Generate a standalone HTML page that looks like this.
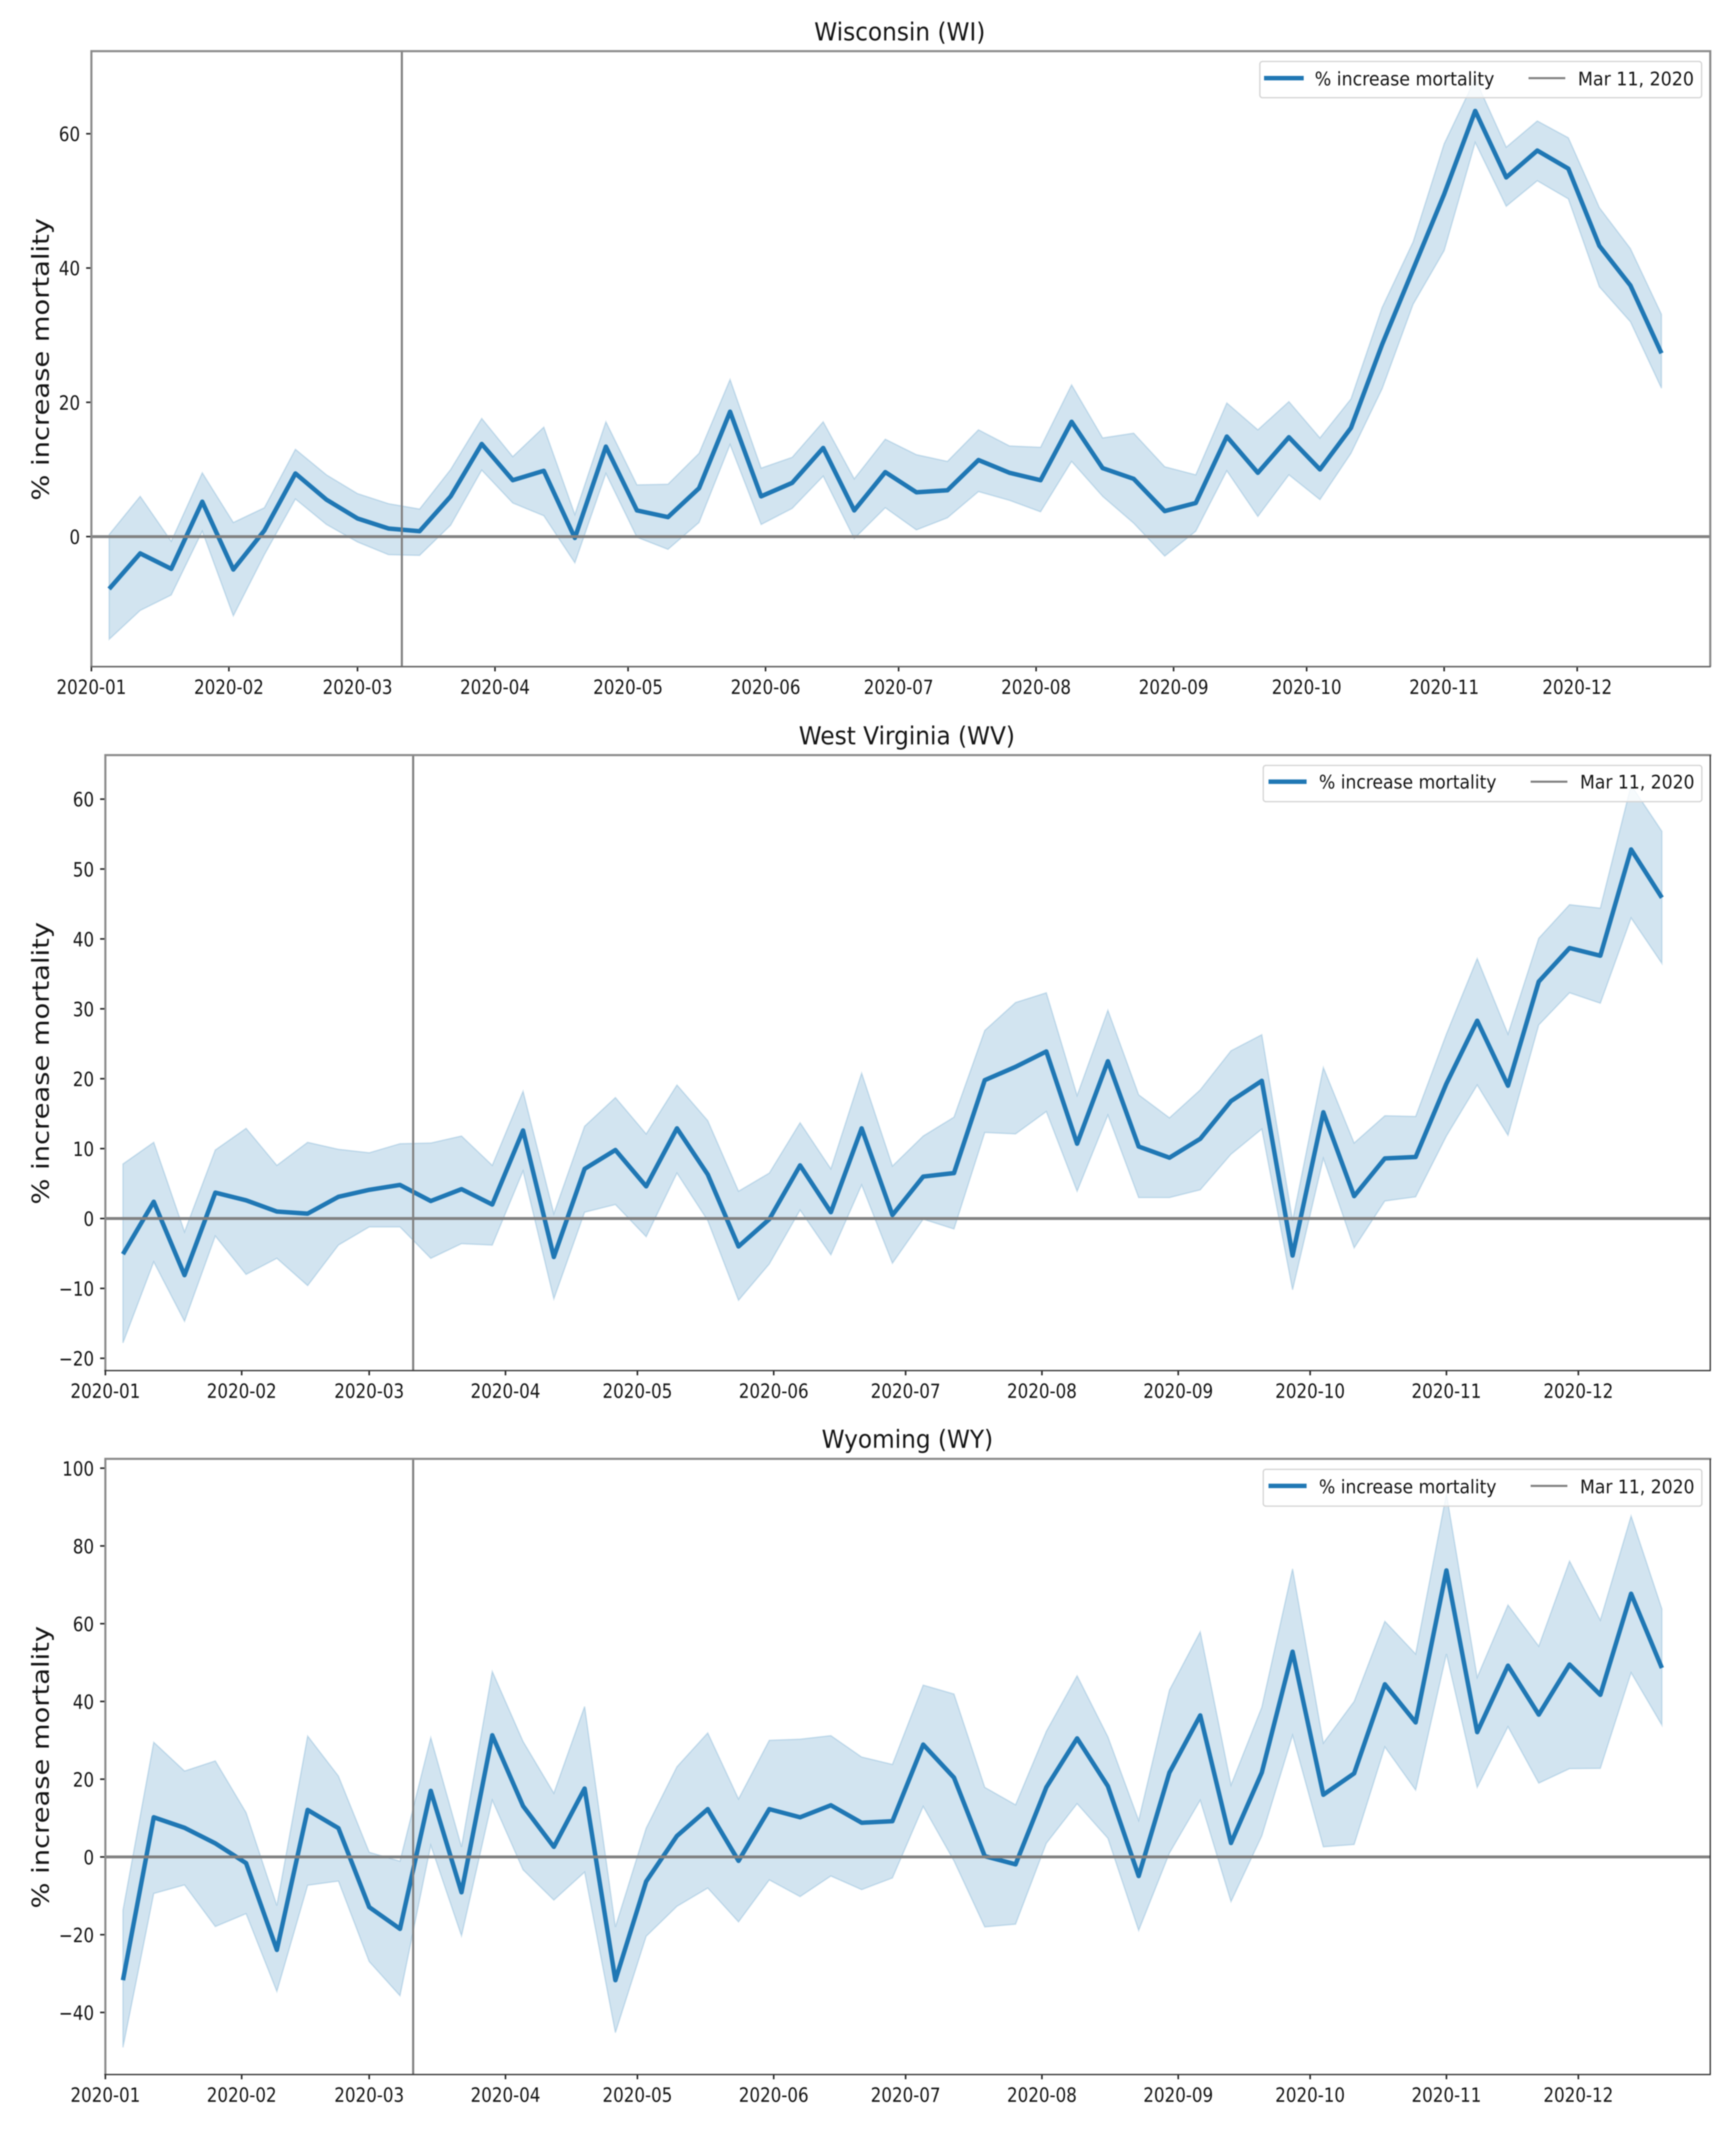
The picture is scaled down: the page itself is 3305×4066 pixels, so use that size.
<!DOCTYPE html>
<html lang="en">
<head>
<meta charset="utf-8">
<title>% increase mortality: Wisconsin, West Virginia, Wyoming</title>
<style>
html,body{margin:0;padding:0;background:#fff;}
#figure{display:block;width:3305px;height:4066px;filter:blur(1.1px);}
text{font-family:"DejaVu Sans","Liberation Sans",sans-serif;fill:#141414;}
.title{font-size:47.5px;}
.ylab{font-size:51px;}
.leg{font-size:35.5px;}
.tick{font-size:37px;}
</style>
</head>
<body>
<svg id="figure" xmlns="http://www.w3.org/2000/svg" width="3305" height="4066" viewBox="0 0 3305 4066">
  <rect x="0" y="0" width="3305" height="4066" fill="#ffffff"/>

  <g id="panel-wi">
    <text class="title" text-anchor="middle" transform="translate(1713,77) scale(0.93,1)">Wisconsin (WI)</text>
    <text class="ylab" text-anchor="middle" transform="translate(93,684) rotate(-90) scale(1.02,0.87)">% increase mortality</text>
    <g id="wi-marks"></g>
    <g>
      <rect x="2398.5" y="117" width="841" height="69" rx="5" fill="rgba(255,255,255,0.8)" stroke="#d4d4d4" stroke-width="2.5"/>
      <line x1="2406.5" y1="148.7" x2="2482" y2="148.7" stroke="#1f77b4" stroke-width="8.5"/>
      <text class="leg" x="2503" y="162.4" textLength="342" lengthAdjust="spacingAndGlyphs">% increase mortality</text>
      <line x1="2910" y1="148.7" x2="2980" y2="148.7" stroke="#808080" stroke-width="4"/>
      <text class="leg" x="3004" y="162.4" textLength="221" lengthAdjust="spacingAndGlyphs">Mar 11, 2020</text>
    </g>
  </g>

  <g id="panel-wv">
    <text class="title" text-anchor="middle" transform="translate(1726.5,1417) scale(0.93,1)">West Virginia (WV)</text>
    <text class="ylab" text-anchor="middle" transform="translate(93,2024) rotate(-90) scale(1.02,0.87)">% increase mortality</text>
    <g id="wv-marks"></g>
    <g>
      <rect x="2405" y="1457" width="835" height="69" rx="5" fill="rgba(255,255,255,0.8)" stroke="#d4d4d4" stroke-width="2.5"/>
      <line x1="2415" y1="1488" x2="2487.5" y2="1488" stroke="#1f77b4" stroke-width="8.5"/>
      <text class="leg" x="2511" y="1501" textLength="338" lengthAdjust="spacingAndGlyphs">% increase mortality</text>
      <line x1="2914" y1="1488" x2="2984" y2="1488" stroke="#808080" stroke-width="4"/>
      <text class="leg" x="3008" y="1501" textLength="218" lengthAdjust="spacingAndGlyphs">Mar 11, 2020</text>
    </g>
  </g>

  <g id="panel-wy">
    <text class="title" text-anchor="middle" transform="translate(1727.5,2756) scale(0.93,1)">Wyoming (WY)</text>
    <text class="ylab" text-anchor="middle" transform="translate(93,3364) rotate(-90) scale(1.02,0.87)">% increase mortality</text>
    <g id="wy-marks"></g>
    <g>
      <rect x="2405" y="2797" width="835" height="70" rx="5" fill="rgba(255,255,255,0.8)" stroke="#d4d4d4" stroke-width="2.5"/>
      <line x1="2415" y1="2828.5" x2="2487.5" y2="2828.5" stroke="#1f77b4" stroke-width="8.5"/>
      <text class="leg" x="2511" y="2842.5" textLength="338" lengthAdjust="spacingAndGlyphs">% increase mortality</text>
      <line x1="2914" y1="2828.5" x2="2984" y2="2828.5" stroke="#808080" stroke-width="4"/>
      <text class="leg" x="3008" y="2842.5" textLength="218" lengthAdjust="spacingAndGlyphs">Mar 11, 2020</text>
    </g>
  </g>
</svg>

<script>
const weekDates = ['2020-01-05','2020-01-12','2020-01-19','2020-01-26','2020-02-02','2020-02-09','2020-02-16','2020-02-23','2020-03-01','2020-03-08','2020-03-15','2020-03-22','2020-03-29','2020-04-05','2020-04-12','2020-04-19','2020-04-26','2020-05-03','2020-05-10','2020-05-17','2020-05-24','2020-05-31','2020-06-07','2020-06-14','2020-06-21','2020-06-28','2020-07-05','2020-07-12','2020-07-19','2020-07-26','2020-08-02','2020-08-09','2020-08-16','2020-08-23','2020-08-30','2020-09-06','2020-09-13','2020-09-20','2020-09-27','2020-10-04','2020-10-11','2020-10-18','2020-10-25','2020-11-01','2020-11-08','2020-11-15','2020-11-22','2020-11-29','2020-12-06','2020-12-13','2020-12-20'];
const monthTicks = ['2020-01','2020-02','2020-03','2020-04','2020-05','2020-06','2020-07','2020-08','2020-09','2020-10','2020-11','2020-12'];
const eventDate = '2020-03-11';

const wiMean = [-7.8,-2.5,-4.8,5.2,-4.9,0.9,9.4,5.5,2.7,1.2,0.8,6,13.8,8.4,9.8,-0.2,13.4,3.9,2.9,7.2,18.6,6,8,13.2,3.9,9.6,6.6,6.9,11.4,9.5,8.4,17.1,10.2,8.6,3.8,5,14.9,9.5,14.8,10,16.2,28.6,39.8,51,63.4,53.5,57.5,54.8,43.3,37.4,27.3];
const wiUpper = [0.3,6,-0.7,9.5,2.1,4.3,13,9.2,6.4,4.9,4.1,10,17.6,11.9,16.3,3.3,17.1,7.7,7.8,12.4,23.4,10.2,11.8,17.1,8.6,14.5,12.2,11.2,15.9,13.5,13.3,22.6,14.7,15.4,10.4,9.2,19.9,15.9,20.1,14.7,20.5,34.1,43.9,58.5,68.2,58,61.9,59.4,49,42.9,33.1];
const wiLower = [-15.3,-11,-8.7,0.8,-11.8,-2.7,5.6,1.8,-0.8,-2.7,-2.8,1.7,9.9,5,3.1,-3.9,9.4,-0.1,-1.9,2.1,13.7,1.8,4.2,9,-0.3,4.3,1,2.8,6.7,5.4,3.7,11.2,6,2,-2.9,0.8,9.8,3,9.2,5.5,12.4,22,34.6,42.6,58.7,49.2,53,50.3,37.2,32,22.1];
const wiTicks = [0,20,40,60];

const wvMean = [-5.1,2.4,-8.1,3.7,2.6,1,0.7,3.1,4.1,4.8,2.5,4.2,2,12.6,-5.5,7.1,9.8,4.6,12.9,6.3,-4,-0.1,7.6,0.9,12.9,0.5,6,6.5,19.8,21.7,23.9,10.7,22.5,10.3,8.7,11.4,16.8,19.7,-5.3,15.2,3.2,8.6,8.8,19.3,28.3,19,33.9,38.7,37.6,52.8,45.9];
const wvUpper = [7.8,10.9,-1.9,9.8,12.9,7.6,10.9,9.9,9.4,10.7,10.8,11.8,7.6,18.2,0.7,13.2,17.3,12.1,19.1,14,3.9,6.5,13.7,7.1,20.8,7.5,11.8,14.5,26.9,30.9,32.3,17.6,29.8,17.7,14.4,18.4,24,26.3,-0.3,21.6,10.8,14.7,14.6,26.4,37.2,26.4,40.1,44.9,44.4,62,55.4];
const wvLower = [-17.8,-6.2,-14.7,-2.5,-8,-5.7,-9.6,-3.8,-1.2,-1.2,-5.7,-3.6,-3.8,6.8,-11.5,0.9,2,-2.6,6.5,-0.3,-11.7,-6.5,1.2,-5.2,4.8,-6.4,-0.1,-1.5,12.3,12.1,15.3,3.9,14.8,3,3,4.1,9.2,12.8,-10.2,8.6,-4.2,2.5,3.1,11.8,19.1,11.9,27.7,32.3,30.8,43,36.5];
const wvTicks = [-20,-10,0,10,20,30,40,50,60];

const wyMean = [-31.7,10.2,7.5,3.5,-1.6,-23.9,12.1,7.4,-12.9,-18.5,17,-9.1,31.3,13.1,2.6,17.6,-31.7,-6.3,5.4,12.3,-1,12.3,10.2,13.3,8.8,9.2,28.9,20.4,0.2,-1.9,17.9,30.5,18.2,-4.9,21.7,36.4,3.6,21.7,52.8,16,21.5,44.4,34.6,73.7,32.1,49.2,36.6,49.5,41.7,67.7,48.6];
const wyUpper = [-13.7,29.5,22.1,24.7,11.4,-12.5,31.1,20.8,1.2,-1.1,30.7,2.6,47.7,29.7,16.4,38.7,-18,7.4,23.2,31.9,14.9,30,30.3,31.2,25.7,23.8,44.2,41.9,17.9,13.4,32.3,46.6,30.9,9.4,42.9,57.9,18.5,38.5,74.1,29.3,40,60.6,52.2,93.4,46.2,64.8,54.2,76.1,60.9,87.7,63.8];
const wyLower = [-49,-9.4,-7.2,-17.9,-14.6,-34.6,-7.3,-6.2,-26.9,-35.7,3,-20.3,14.6,-3.3,-11.1,-3.9,-45.2,-20.4,-12.7,-8,-16.7,-5.9,-10.2,-4.9,-8.4,-5.4,13,-1,-18,-17.3,3.5,13.7,4.8,-18.9,1,14.6,-11.5,5.4,31.3,2.6,3.2,28.3,17.2,52.2,17.9,33.5,19,22.7,22.8,47.4,33.9];
const wyTicks = [-40,-20,0,20,40,60,80,100];

const SVG_NS = 'http://www.w3.org/2000/svg';
const X_DOMAIN_DAYS = 365;

function dayOfYear(iso) {
  const s = iso.length === 7 ? iso + '-01' : iso;
  return (Date.parse(s + 'T00:00:00Z') - Date.UTC(2020, 0, 1)) / 86400000;
}

function makeEl(tag) {
  return document.createElementNS(SVG_NS, tag);
}

function makeLine(x1, y1, x2, y2, color, width) {
  const l = makeEl('line');
  l.setAttribute('x1', x1);
  l.setAttribute('y1', y1);
  l.setAttribute('x2', x2);
  l.setAttribute('y2', y2);
  l.setAttribute('stroke', color);
  l.setAttribute('stroke-width', width);
  return l;
}

function formatTick(v) {
  return v < 0 ? '\u2212' + Math.abs(v) : String(v);
}

function drawPanel(groupId, slug, box, yMin, yMax, mean, upper, lower, yTickValues, grey) {
  const root = document.getElementById(groupId);
  const xScale = function (iso) {
    return box.left + dayOfYear(iso) / X_DOMAIN_DAYS * (box.right - box.left);
  };
  const yScale = function (v) {
    return box.bottom - (v - yMin) / (yMax - yMin) * (box.bottom - box.top);
  };

  const upperPts = weekDates.map(function (d, i) { return xScale(d).toFixed(1) + ',' + yScale(upper[i]).toFixed(1); });
  const lowerPts = weekDates.map(function (d, i) { return xScale(d).toFixed(1) + ',' + yScale(lower[i]).toFixed(1); }).reverse();
  const band = makeEl('polygon');
  band.setAttribute('points', upperPts.concat(lowerPts).join(' '));
  band.setAttribute('fill', 'rgba(31,119,180,0.2)');
  band.setAttribute('stroke', 'rgba(31,119,180,0.2)');
  band.setAttribute('stroke-width', '2.5');
  
  
  root.appendChild(band);

  const meanLine = makeEl('polyline');
  meanLine.setAttribute('points', weekDates.map(function (d, i) { return xScale(d).toFixed(1) + ',' + yScale(mean[i]).toFixed(1); }).join(' '));
  meanLine.setAttribute('fill', 'none');
  meanLine.setAttribute('stroke', '#1f77b4');
  meanLine.setAttribute('stroke-width', '8.5');
  meanLine.setAttribute('stroke-linejoin', 'round');
  
  
  root.appendChild(meanLine);

  const zero = makeLine(box.left, yScale(0), box.right, yScale(0), '#808080', 5.5);
  
  
  root.appendChild(zero);

  const vline = makeLine(xScale(eventDate), box.top, xScale(eventDate), box.bottom, '#808080', 4);
  
  
  root.appendChild(vline);

  yTickValues.forEach(function (v) {
    const t = makeLine(box.left - 10, yScale(v), box.left, yScale(v), '#222222', 3);
    
    
    root.appendChild(t);
    const lab = makeEl('text');
    lab.setAttribute('class', 'tick');
    lab.setAttribute('text-anchor', 'end');
    lab.setAttribute('transform', 'translate(' + (box.left - 21.5) + ',' + (yScale(v) + 14) + ') scale(0.86,1)');
    
    
    lab.textContent = formatTick(v);
    root.appendChild(lab);
  });

  monthTicks.forEach(function (m) {
    const t = makeLine(xScale(m), box.bottom, xScale(m), box.bottom + 9, '#222222', 3);
    
    
    root.appendChild(t);
    const lab = makeEl('text');
    lab.setAttribute('class', 'tick');
    lab.setAttribute('text-anchor', 'middle');
    lab.setAttribute('transform', 'translate(' + xScale(m).toFixed(1) + ',' + (box.bottom + 52) + ') scale(0.86,1)');
    
    
    lab.textContent = m;
    root.appendChild(lab);
  });

  const spineTop = makeLine(box.left - 2, box.top, box.right + 2, box.top, '#8a8a8a', 4);
  
  
  root.appendChild(spineTop);

  const spineLeft = makeLine(box.left, box.top, box.left, box.bottom, '#8a8a8a', 4);
  
  
  root.appendChild(spineLeft);

  const spineRight = makeLine(box.right, box.top, box.right, box.bottom, grey ? '#8a8a8a' : '#333333', grey ? 4 : 2.5);
  
  
  root.appendChild(spineRight);

  const spineBottom = makeLine(box.left - 2, box.bottom, box.right + 1, box.bottom, grey ? '#666666' : '#333333', grey ? 3 : 2.5);
  
  
  root.appendChild(spineBottom);
}

drawPanel('wi-marks', 'wisconsin', {left: 174, right: 3256, top: 97.4, bottom: 1269}, -19.37, 72.3, wiMean, wiUpper, wiLower, wiTicks, true);
drawPanel('wv-marks', 'west-virginia', {left: 200.6, right: 3256, top: 1437.4, bottom: 2609}, -21.76, 66.3, wvMean, wvUpper, wvLower, wvTicks, false);
drawPanel('wy-marks', 'wyoming', {left: 200.6, right: 3256, top: 2777, bottom: 3949}, -55.97, 102.4, wyMean, wyUpper, wyLower, wyTicks, false);
</script>
</body>
</html>
